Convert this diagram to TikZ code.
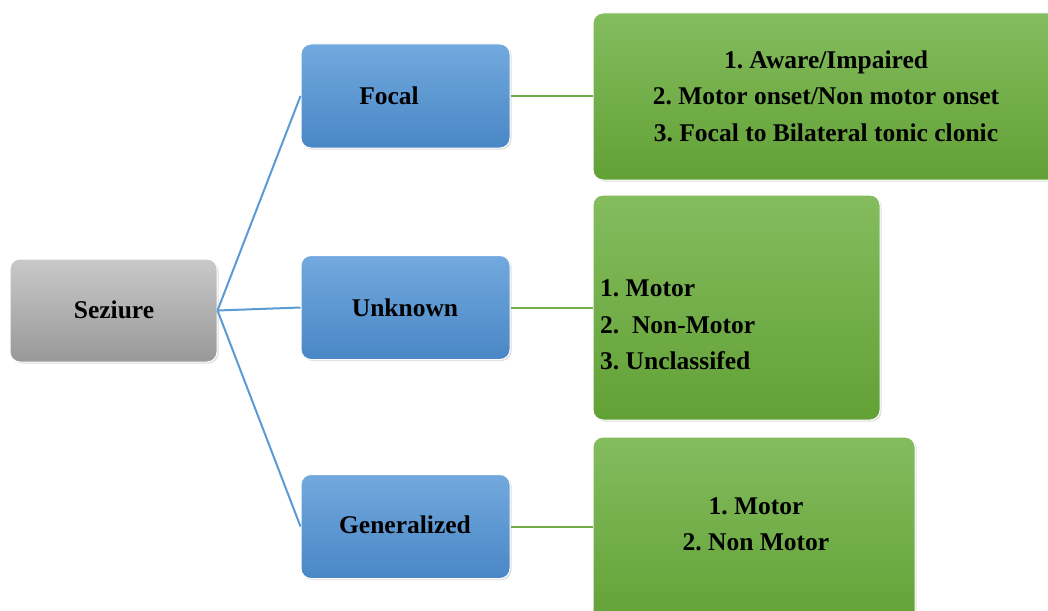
\documentclass[tikz,border=0pt]{standalone}
\usepackage{fontspec}
\setmainfont{Liberation Serif}
\usetikzlibrary{shadows}
\definecolor{bluetop}{HTML}{72A9DE}
\definecolor{bluebot}{HTML}{4A87C6}
\definecolor{greentop}{HTML}{84BC5E}
\definecolor{greenbot}{HTML}{62A136}
\definecolor{graytop}{HTML}{C9C9C9}
\definecolor{graybot}{HTML}{989898}
\definecolor{blueline}{HTML}{5B9BD5}
\definecolor{greenline}{HTML}{70AD47}
\tikzset{
  box/.style={rectangle, rounded corners=10pt, draw=white, line width=1pt,
    drop shadow={opacity=0.25, shadow xshift=1.5pt, shadow yshift=-1.5pt},
    inner sep=0pt},
  graybox/.style={box, top color=graytop, bottom color=graybot},
  bluebox/.style={box, top color=bluetop, bottom color=bluebot,
    minimum width=209pt, minimum height=104pt},
  greenbox/.style={box, top color=greentop, bottom color=greenbot},
  lbl/.style={font=\fontsize{25.5}{36.5}\selectfont\bfseries\frenchspacing, text=black, inner sep=0pt},
  bline/.style={draw=blueline, line width=2pt},
  gline/.style={draw=greenline, line width=2pt},
}
\begin{document}
\frenchspacing
\begin{tikzpicture}[x=1pt, y=-1pt]
\useasboundingbox (0,0) rectangle (1048,610);
\clip (0,0) rectangle (1048,610);
\fill[white] (0,0) rectangle (1048,610);
% boxes
\node[graybox, minimum width=207pt, minimum height=103pt] (root) at (113.5,310.5) {};
\node[bluebox] (focal) at (405.5,96) {};
\node[bluebox] (unknown) at (405.5,307.5) {};
\node[bluebox] (gen) at (405.5,526.5) {};
\node[greenbox, minimum width=480pt, minimum height=167pt] (g1) at (833,96.5) {};
\node[greenbox, minimum width=287pt, minimum height=225pt] (g2) at (736.5,307.5) {};
\node[greenbox, minimum width=322pt, minimum height=190pt] (g3) at (754,532) {};
% labels
\node[lbl] (troot) at (114,310) {Seziure};
\node[lbl] (tfocal) at (389,96) {Focal};
\node[lbl] (tunknown) at (405,308) {Unknown};
\node[lbl] (tgen) at (405,525) {Generalized};
\node[lbl, align=center] (t1) at (826,96) {1. Aware/Impaired\\2. Motor onset/Non motor onset\\3. Focal to Bilateral tonic clonic};
\node[lbl, align=left, anchor=west] (t2) at (600,325) {1. Motor\\2.\ \ Non-Motor\\3. Unclassifed};
\node[lbl, align=center] (t3) at (756,524.5) {1. Motor\\2. Non Motor};
% connectors
\coordinate (rootout) at (root.east);
\path[bline] (rootout) -- (focal.west);
\path[bline] (rootout) -- (unknown.west);
\path[bline] (rootout) -- (gen.west);
\path[gline] (focal.east) -- (focal.east -| g1.west);
\path[gline] (unknown.east) -- (unknown.east -| g2.west);
\path[gline] (gen.east) -- (gen.east -| g3.west);
\end{tikzpicture}
\end{document}
